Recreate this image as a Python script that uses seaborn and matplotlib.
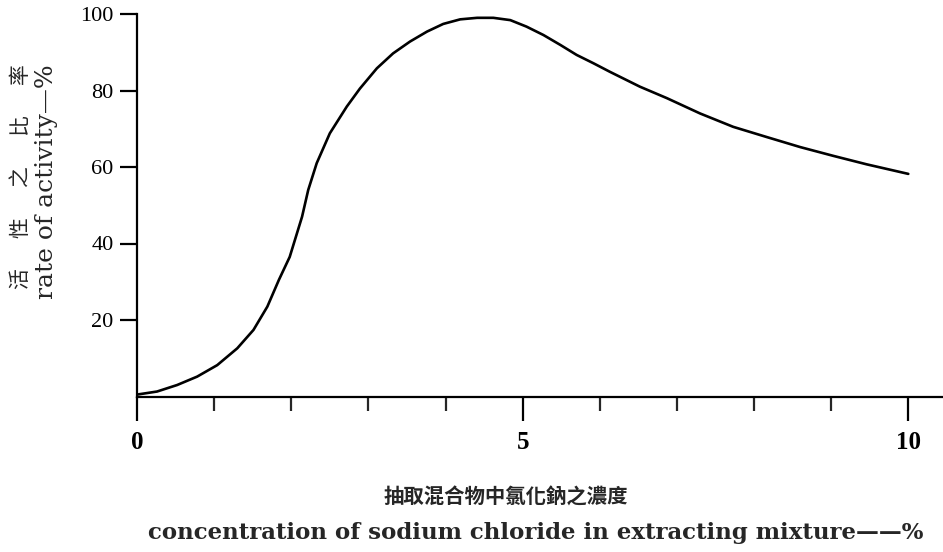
import matplotlib
matplotlib.use("Agg")
import matplotlib.pyplot as plt
from matplotlib.ticker import FixedLocator
import seaborn as sns
import pandas as pd

# Data
concentration = [0.0, 0.26, 0.52, 0.78, 1.04, 1.30, 1.51, 1.69, 1.84, 1.98,
                 2.14, 2.22, 2.33, 2.50, 2.72, 2.89, 3.11, 3.32, 3.54, 3.76,
                 3.97, 4.19, 4.41, 4.62, 4.84, 5.05, 5.27, 5.49, 5.70, 5.92,
                 6.13, 6.35, 6.52, 6.87, 7.30, 7.73, 8.17, 8.60, 9.03, 9.46,
                 10.0]
activity = [0.5, 1.3, 3.0, 5.2, 8.2, 12.6, 17.4, 23.5, 30.5, 36.5,
            47.0, 54.0, 61.0, 68.8, 75.8, 80.5, 85.8, 89.7, 92.8, 95.4,
            97.4, 98.6, 99.0, 99.0, 98.4, 96.7, 94.5, 91.9, 89.3, 87.1,
            84.9, 82.7, 81.0, 78.0, 74.0, 70.5, 67.8, 65.2, 62.9, 60.7,
            58.2]

x_major = [0, 5, 10]
x_minor = [1, 2, 3, 4, 6, 7, 8, 9]
y_ticks = [20, 40, 60, 80, 100]

ylabel_cn = "活\u3000  性\u3000  之\u3000  比\u3000  率"
ylabel_en = "rate of activity—%"
xlabel_cn = "抽取混合物中氯化鈉之濃度"
xlabel_en = "concentration of sodium chloride in extracting mixture——%"

df = pd.DataFrame({"conc": concentration, "act": activity})

sns.set_style("ticks")
plt.rcParams["font.family"] = ["Liberation Serif", "Noto Sans CJK TC"]

fig = plt.figure(figsize=(9.43, 5.52), dpi=100)
ax = fig.add_axes([137 / 943, 1 - 396.5 / 552, 1 - 137 / 943, (396.5 - 14) / 552])

sns.lineplot(data=df, x="conc", y="act", color="black", linewidth=1.9, ax=ax)
ax.lines[0].set_solid_joinstyle("round")
ax.lines[0].set_solid_capstyle("round")

ax.set_xlim(0, 10.45)
ax.set_ylim(0, 100)
ax.set_xlabel("")
ax.set_ylabel("")

for s in ["top", "right"]:
    ax.spines[s].set_visible(False)
for s in ["left", "bottom"]:
    ax.spines[s].set_linewidth(1.6)
    ax.spines[s].set_color("black")

ax.xaxis.set_major_locator(FixedLocator(x_major))
ax.xaxis.set_minor_locator(FixedLocator(x_minor))
ax.set_xticklabels([str(v) for v in x_major])
ax.yaxis.set_major_locator(FixedLocator(y_ticks))
ax.set_yticklabels([str(v) for v in y_ticks])

ax.tick_params(axis="x", which="major", direction="out", length=17, width=1.6,
               pad=8, labelsize=18, colors="black")
ax.tick_params(axis="x", which="minor", direction="out", length=10, width=1.6)
ax.tick_params(axis="y", which="major", direction="out", length=12, width=1.6,
               pad=5, labelsize=16, colors="black")
for lab in ax.get_xticklabels():
    lab.set_fontweight("bold")

fig.text(21 / 943, 1 - 177 / 552, ylabel_cn, rotation=90, ha="center", va="center",
         fontsize=15, family=["Noto Sans CJK TC", "DejaVu Sans"])
fig.text(47 / 943, 1 - 182 / 552, ylabel_en, rotation=90, ha="center", va="center",
         fontsize=18, family=["DejaVu Serif", "Noto Sans CJK TC"])

fig.text(506 / 943, 1 - 497 / 552, xlabel_cn, ha="center", va="center",
         fontsize=14.7, fontweight="bold", family=["Noto Sans CJK TC", "DejaVu Sans"])
fig.text(536 / 943, 1 - 533 / 552, xlabel_en, ha="center", va="center",
         fontsize=16.5, fontweight="bold", family=["DejaVu Serif", "Noto Sans CJK TC"])

fig.savefig("out.png", dpi=100, facecolor="white")
